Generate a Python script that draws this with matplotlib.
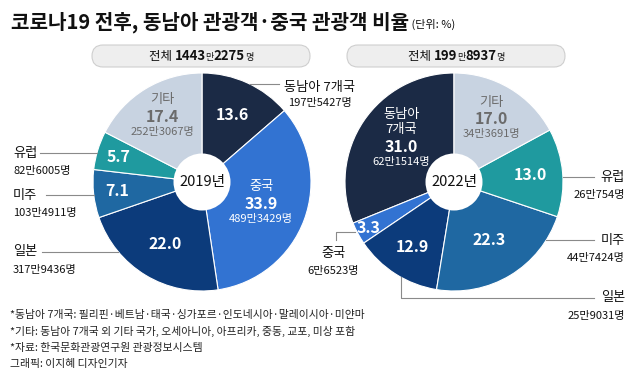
import matplotlib
matplotlib.use('Agg')
import matplotlib.pyplot as plt
import numpy as np
from matplotlib.patches import Circle, FancyBboxPatch
from matplotlib.offsetbox import TextArea, HPacker, AnnotationBbox

plt.rcParams['font.family'] = ['Noto Sans CJK KR', 'DejaVu Sans']

# data
regions = ['동남아 7개국', '중국', '일본', '미주', '유럽', '기타']
share_2019 = [13.6, 33.9, 22.0, 7.1, 5.7, 17.4]
visitors_2019 = ['197만5427명', '489만3429명', '317만9436명', '103만4911명', '82만6005명', '252만3067명']
share_2022 = [31.0, 3.3, 12.9, 22.3, 13.0, 17.0]
visitors_2022 = ['62만1514명', '6만6523명', '25만9031명', '44만7424명', '26만754명', '34만3691명']
total_2019 = ('1443', '2275')
total_2022 = ('199', '8937')
years = ['2019년', '2022년']
title = '코로나19 전후, 동남아 관광객·중국 관광객 비율'
unit = ' (단위: %)'
notes = ['*동남아 7개국: 필리핀·베트남·태국·싱가포르·인도네시아·말레이시아·미얀마',
         '*기타: 동남아 7개국 외 기타 국가, 오세아니아, 아프리카, 중동, 교포, 미상 포함',
         '*자료: 한국문화관광연구원 관광정보시스템',
         '그래픽: 이지혜 디자인기자']

colors = ['#1b2a45', '#3273d2', '#0c3b7b', '#1f68a2', '#1f9a9f', '#c8d3e1']
text_col = ['white', 'white', 'white', 'white', 'white', '#6b6b6b']
line_col = '#8a8a8a'

W, H = 640, 374
R = 109


def Y(y):
    return H - y


fig = plt.figure(figsize=(6.4, 3.74), dpi=100)
ax = fig.add_axes([0, 0, 1, 1])

c1 = (202, Y(182))
c2 = (454, Y(182))
wp = dict(edgecolor='white', linewidth=0.8)
w1, _ = ax.pie(share_2019, colors=colors, startangle=90, counterclock=False,
               radius=R, center=c1, wedgeprops=wp)
w2, _ = ax.pie(share_2022, colors=colors, startangle=90, counterclock=True,
               radius=R, center=c2, wedgeprops=wp)

for c, yr in zip([c1, c2], years):
    ax.add_patch(Circle(c, 28.5, facecolor='white', edgecolor='none', zorder=3))
    ax.text(c[0], c[1], yr, ha='center', va='center', fontsize=10.5, color='#111111', zorder=4)


def inner_labels(wedges, shares, visitors, c, rfrac, named):
    for i, w in enumerate(wedges):
        ang = np.deg2rad((w.theta1 + w.theta2) / 2)
        x = c[0] + rfrac[i] * R * np.cos(ang)
        y = c[1] + rfrac[i] * R * np.sin(ang)
        col = text_col[i]
        ax.text(x, y, f'{shares[i]:.1f}', ha='center', va='center', fontsize=11.5,
                fontweight='bold', color=col, zorder=4)
        if i in named:
            names = regions[i].split(' ')
            for k, nm in enumerate(names[::-1]):
                ax.text(x, y + 17 + 15 * k, nm, ha='center', va='center', fontsize=9.5,
                        color=col, zorder=4)
            ax.text(x, y - 15, visitors[i], ha='center', va='center', fontsize=8,
                    color=col, zorder=4)


inner_labels(w1, share_2019, visitors_2019, c1, [0.68, 0.58, 0.66, 0.78, 0.80, 0.70], [1, 5])
inner_labels(w2, share_2022, visitors_2022, c2, [0.58, 0.89, 0.71, 0.62, 0.70, 0.67], [0, 5])


def edge_x(c, y, side):
    return c[0] + side * np.sqrt(R ** 2 - (c[1] - y) ** 2)


def edge_y(c, x):
    return c[1] - np.sqrt(R ** 2 - (c[0] - x) ** 2)


def outside(i, visitors, x, y, ha, gap=18):
    ax.text(x, Y(y), regions[i], ha=ha, va='center', fontsize=9.5, color='#111111')
    ax.text(x, Y(y + gap), visitors[i], ha=ha, va='center', fontsize=8, color='#111111')


# 2019 outside labels
ax.plot([edge_x(c1, Y(84), 1), 279], [Y(84), Y(84)], color=line_col, lw=0.8)
outside(0, visitors_2019, 320, 87, 'center', 16)
for i, yy, x0 in [(4, 153, 40), (3, 195, 46), (2, 252, 42)]:
    ax.plot([x0, edge_x(c1, Y(yy), -1)], [Y(yy), Y(yy)], color=line_col, lw=0.8)
    outside(i, visitors_2019, 13, yy, 'left')

# 2022 outside labels
for i, yy in [(4, 177), (3, 240)]:
    ax.plot([edge_x(c2, Y(yy), 1), 594], [Y(yy), Y(yy)], color=line_col, lw=0.8)
    outside(i, visitors_2022, 625, yy, 'right')
ax.plot([401, 401, 594], [edge_y(c2, 401), Y(298), Y(298)], color=line_col, lw=0.8)
outside(2, visitors_2022, 625, 298, 'right')
ax.plot([355, 336, 336], [Y(232), Y(232), Y(240)], color=line_col, lw=0.8)
outside(1, visitors_2022, 333, 253, 'center')

# total pills
for cx, tot in [(201, total_2019), (456, total_2022)]:
    ax.add_patch(FancyBboxPatch((cx - 109, Y(67)), 218, 22,
                                boxstyle='round,pad=0,rounding_size=11',
                                facecolor='#eeeeee', edgecolor='#cfcfcf', lw=0.8))
    parts = [TextArea('전체 ', textprops=dict(fontsize=9, color='#111111')),
             TextArea(tot[0], textprops=dict(fontsize=9.5, fontweight='bold', color='#111111')),
             TextArea('만', textprops=dict(fontsize=6.5, color='#111111')),
             TextArea(tot[1], textprops=dict(fontsize=9.5, fontweight='bold', color='#111111')),
             TextArea('명', textprops=dict(fontsize=6.5, color='#111111'))]
    box = HPacker(children=parts, align='baseline', pad=0, sep=0)
    ax.add_artist(AnnotationBbox(box, (cx, Y(56)), frameon=False, box_alignment=(0.5, 0.5)))

# title
tparts = [TextArea(title, textprops=dict(fontsize=14.5, fontweight='bold', color='#111111')),
          TextArea(unit, textprops=dict(fontsize=8, color='#111111'))]
tbox = HPacker(children=tparts, align='baseline', pad=0, sep=0)
ax.add_artist(AnnotationBbox(tbox, (11, Y(22)), frameon=False, box_alignment=(0, 0.5)))

# footnotes
for k, n in enumerate(notes):
    ax.text(10, Y(315 + 16.5 * k), n, ha='left', va='center', fontsize=7.8, color='#222222')

ax.set_xlim(0, W)
ax.set_ylim(0, H)
ax.set_aspect('equal')
ax.axis('off')

fig.savefig('out.png', dpi=100)
